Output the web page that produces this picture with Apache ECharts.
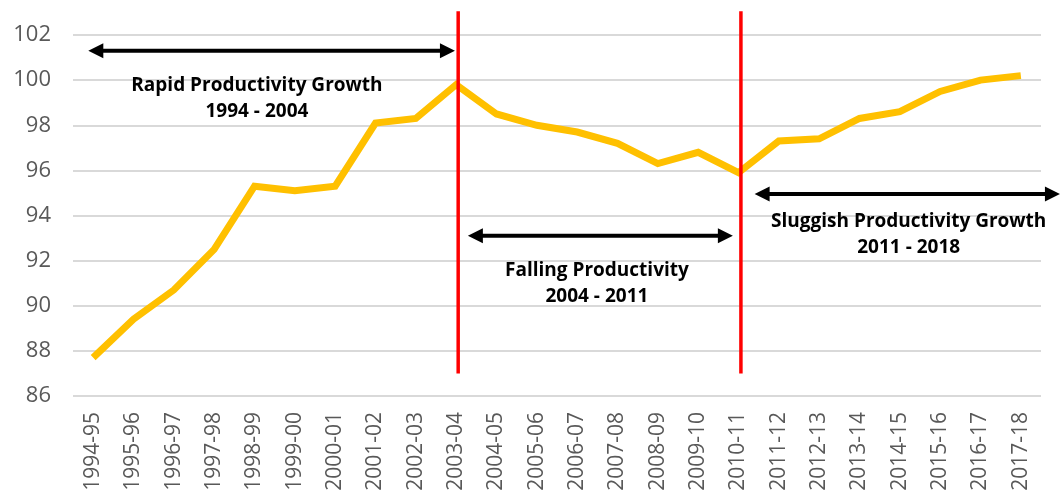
<!DOCTYPE html>
<html>
<head>
<meta charset="utf-8">
<script src="https://cdn.jsdelivr.net/npm/echarts@6/dist/echarts.min.js"></script>
<style>
html,body{margin:0;padding:0;background:#fff;}
#main{width:1063px;height:502px;}
</style>
</head>
<body>
<div id="main"></div>
<script>
var categories = ['1994-95','1995-96','1996-97','1997-98','1998-99','1999-00','2000-01','2001-02','2002-03','2003-04','2004-05','2005-06','2006-07','2007-08','2008-09','2009-10','2010-11','2011-12','2012-13','2013-14','2014-15','2015-16','2016-17','2017-18'];
var productivity = [87.7,89.4,90.7,92.5,95.3,95.1,95.3,98.1,98.3,99.8,98.5,98.0,97.7,97.2,96.3,96.8,95.9,97.3,97.4,98.3,98.6,99.5,100.0,100.2];
var yTicks = {min:86, max:102, interval:2};
var breakIndices = [9.05, 16.06];
var breakRange = [87, 103.05];
var periodArrows = [
  {from:-0.12, to:8.97, y:101.3},
  {from:9.29, to:15.86, y:93.1},
  {from:16.4, to:23.97, y:94.95}
];
var periodLabels = [
  {text:'Rapid Productivity Growth\n1994 - 2004', x:4.06, y:99.2},
  {text:'Falling Productivity\n2004 - 2011', x:12.49, y:90.96},
  {text:'Sluggish Productivity Growth\n2011 - 2018', x:20.22, y:93.16}
];

var chart = echarts.init(document.getElementById('main'));
var option = {
  animation:false,
  grid:{left:73, right:22, top:35, bottom:106},
  xAxis:[{
    type:'category', data:categories, boundaryGap:true,
    axisLine:{show:false}, axisTick:{show:false},
    axisLabel:{rotate:90, margin:16, color:'#595959', fontSize:21, fontFamily:'Open Sans', interval:0}
  },{
    type:'value', min:-0.5, max:categories.length-0.5, show:false
  }],
  yAxis:{
    type:'value', min:yTicks.min, max:yTicks.max, interval:yTicks.interval,
    axisLine:{show:false}, axisTick:{show:false},
    axisLabel:{color:'#595959', fontSize:22, fontFamily:'Open Sans', margin:22},
    splitLine:{lineStyle:{color:'#d9d9d9', width:2}}
  },
  series:[{
    type:'line', data:productivity, showSymbol:false, symbol:'none', clip:false,
    lineStyle:{color:'#FFC000', width:7, join:'miter'},
    z:3
  },{
    type:'line', xAxisIndex:1, data:[], silent:true
  }]
};
chart.setOption(option);

function px(x, y){ return chart.convertToPixel({xAxisIndex:1, yAxisIndex:0}, [x, y]); }
var graphics = [];
breakIndices.forEach(function(i){
  var a = px(i, breakRange[0]), b = px(i, breakRange[1]);
  graphics.push({type:'line', z:10, shape:{x1:a[0], y1:a[1], x2:b[0], y2:b[1]}, style:{stroke:'#FF0000', lineWidth:3.5}});
});
var head = 15, half = 7.5;
periodArrows.forEach(function(ar){
  var a = px(ar.from, ar.y), b = px(ar.to, ar.y);
  graphics.push({type:'line', z:10, shape:{x1:a[0]+head-2, y1:a[1], x2:b[0]-head+2, y2:b[1]}, style:{stroke:'#000', lineWidth:4}});
  graphics.push({type:'polygon', z:10, shape:{points:[[a[0], a[1]],[a[0]+head, a[1]-half],[a[0]+head, a[1]+half]]}, style:{fill:'#000'}});
  graphics.push({type:'polygon', z:10, shape:{points:[[b[0], b[1]],[b[0]-head, b[1]-half],[b[0]-head, b[1]+half]]}, style:{fill:'#000'}});
});
periodLabels.forEach(function(l){
  var p = px(l.x, l.y);
  graphics.push({type:'text', z:11, x:p[0], y:p[1], style:{text:l.text, fill:'#000', font:'bold 19px "Open Sans"', align:'center', verticalAlign:'middle', lineHeight:26}});
});
chart.setOption({graphic:graphics});
</script>
</body>
</html>
